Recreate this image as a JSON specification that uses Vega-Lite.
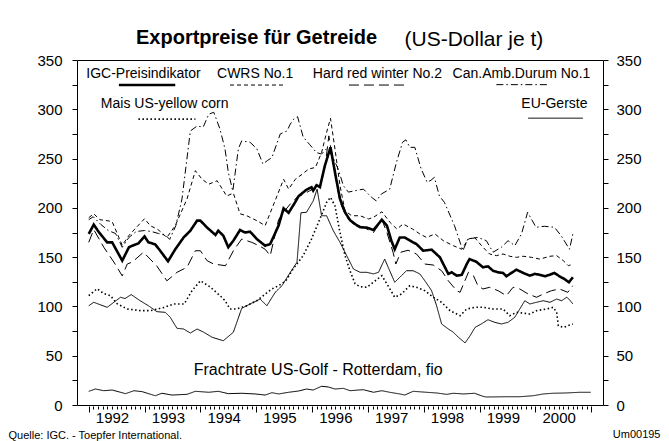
{
  "$schema": "https://vega.github.io/schema/vega-lite/v6.json",
  "width": 526,
  "height": 345,
  "autosize": "none",
  "padding": {"left": 77, "top": 60, "right": 66, "bottom": 36},
  "background": "white",
  "title": {
    "text": "Exportpreise für Getreide",
    "anchor": "start",
    "frame": "group",
    "dx": 59,
    "offset": -20,
    "font": "Liberation Sans",
    "fontSize": 20,
    "fontWeight": "bold",
    "color": "black"
  },
  "datasets": {
    "prices": [
      {"s":"IGC-Preisindikator","t":1992.00,"v":173.5},{"s":"IGC-Preisindikator","t":1992.09,"v":183},{"s":"IGC-Preisindikator","t":1992.18,"v":175.5},{"s":"IGC-Preisindikator","t":1992.33,"v":165},{"s":"IGC-Preisindikator","t":1992.42,"v":165},{"s":"IGC-Preisindikator","t":1992.60,"v":146.4},{"s":"IGC-Preisindikator","t":1992.72,"v":160},{"s":"IGC-Preisindikator","t":1992.78,"v":161.6},{"s":"IGC-Preisindikator","t":1992.89,"v":164},{"s":"IGC-Preisindikator","t":1993.00,"v":171},{"s":"IGC-Preisindikator","t":1993.07,"v":165},{"s":"IGC-Preisindikator","t":1993.19,"v":163},{"s":"IGC-Preisindikator","t":1993.28,"v":156.5},{"s":"IGC-Preisindikator","t":1993.42,"v":145.8},{"s":"IGC-Preisindikator","t":1993.55,"v":158},{"s":"IGC-Preisindikator","t":1993.70,"v":170},{"s":"IGC-Preisindikator","t":1993.82,"v":176.8},{"s":"IGC-Preisindikator","t":1993.94,"v":187},{"s":"IGC-Preisindikator","t":1994.00,"v":187},{"s":"IGC-Preisindikator","t":1994.12,"v":180},{"s":"IGC-Preisindikator","t":1994.27,"v":172.5},{"s":"IGC-Preisindikator","t":1994.32,"v":176.8},{"s":"IGC-Preisindikator","t":1994.41,"v":171.8},{"s":"IGC-Preisindikator","t":1994.50,"v":160},{"s":"IGC-Preisindikator","t":1994.59,"v":166.7},{"s":"IGC-Preisindikator","t":1994.71,"v":177.5},{"s":"IGC-Preisindikator","t":1994.80,"v":175},{"s":"IGC-Preisindikator","t":1994.89,"v":175.8},{"s":"IGC-Preisindikator","t":1995.01,"v":168.4},{"s":"IGC-Preisindikator","t":1995.16,"v":161.6},{"s":"IGC-Preisindikator","t":1995.25,"v":163.3},{"s":"IGC-Preisindikator","t":1995.40,"v":182},{"s":"IGC-Preisindikator","t":1995.49,"v":199.5},{"s":"IGC-Preisindikator","t":1995.58,"v":195},{"s":"IGC-Preisindikator","t":1995.70,"v":206},{"s":"IGC-Preisindikator","t":1995.76,"v":212},{"s":"IGC-Preisindikator","t":1995.89,"v":218},{"s":"IGC-Preisindikator","t":1995.99,"v":221},{"s":"IGC-Preisindikator","t":1996.02,"v":217.5},{"s":"IGC-Preisindikator","t":1996.08,"v":223},{"s":"IGC-Preisindikator","t":1996.14,"v":221},{"s":"IGC-Preisindikator","t":1996.23,"v":243},{"s":"IGC-Preisindikator","t":1996.33,"v":261.4},{"s":"IGC-Preisindikator","t":1996.41,"v":236},{"s":"IGC-Preisindikator","t":1996.50,"v":209},{"s":"IGC-Preisindikator","t":1996.59,"v":195.5},{"s":"IGC-Preisindikator","t":1996.68,"v":187.5},{"s":"IGC-Preisindikator","t":1996.77,"v":183.6},{"s":"IGC-Preisindikator","t":1996.86,"v":180.3},{"s":"IGC-Preisindikator","t":1996.98,"v":180},{"s":"IGC-Preisindikator","t":1997.10,"v":177.5},{"s":"IGC-Preisindikator","t":1997.25,"v":188},{"s":"IGC-Preisindikator","t":1997.34,"v":182},{"s":"IGC-Preisindikator","t":1997.42,"v":166.7},{"s":"IGC-Preisindikator","t":1997.48,"v":158},{"s":"IGC-Preisindikator","t":1997.57,"v":170},{"s":"IGC-Preisindikator","t":1997.66,"v":170},{"s":"IGC-Preisindikator","t":1997.81,"v":165},{"s":"IGC-Preisindikator","t":1997.87,"v":163.3},{"s":"IGC-Preisindikator","t":1997.99,"v":156.5},{"s":"IGC-Preisindikator","t":1998.14,"v":157.6},{"s":"IGC-Preisindikator","t":1998.29,"v":149.8},{"s":"IGC-Preisindikator","t":1998.35,"v":143},{"s":"IGC-Preisindikator","t":1998.44,"v":133},{"s":"IGC-Preisindikator","t":1998.50,"v":134.6},{"s":"IGC-Preisindikator","t":1998.59,"v":131.2},{"s":"IGC-Preisindikator","t":1998.68,"v":132},{"s":"IGC-Preisindikator","t":1998.77,"v":143},{"s":"IGC-Preisindikator","t":1998.82,"v":148},{"s":"IGC-Preisindikator","t":1998.94,"v":145.4},{"s":"IGC-Preisindikator","t":1999.06,"v":139.7},{"s":"IGC-Preisindikator","t":1999.15,"v":140.7},{"s":"IGC-Preisindikator","t":1999.24,"v":136.2},{"s":"IGC-Preisindikator","t":1999.33,"v":134.6},{"s":"IGC-Preisindikator","t":1999.42,"v":134},{"s":"IGC-Preisindikator","t":1999.48,"v":130.6},{"s":"IGC-Preisindikator","t":1999.57,"v":134},{"s":"IGC-Preisindikator","t":1999.66,"v":137.3},{"s":"IGC-Preisindikator","t":1999.78,"v":134},{"s":"IGC-Preisindikator","t":1999.90,"v":131.2},{"s":"IGC-Preisindikator","t":1999.99,"v":133},{"s":"IGC-Preisindikator","t":2000.08,"v":132},{"s":"IGC-Preisindikator","t":2000.17,"v":130.6},{"s":"IGC-Preisindikator","t":2000.25,"v":132},{"s":"IGC-Preisindikator","t":2000.34,"v":134},{"s":"IGC-Preisindikator","t":2000.43,"v":130.6},{"s":"IGC-Preisindikator","t":2000.52,"v":127.8},{"s":"IGC-Preisindikator","t":2000.60,"v":124.5},{"s":"IGC-Preisindikator","t":2000.67,"v":129.6},

      {"s":"CWRS No.1","t":1992.00,"v":190},{"s":"CWRS No.1","t":1992.09,"v":194},{"s":"CWRS No.1","t":1992.20,"v":188},{"s":"CWRS No.1","t":1992.33,"v":187},{"s":"CWRS No.1","t":1992.42,"v":186},{"s":"CWRS No.1","t":1992.60,"v":162},{"s":"CWRS No.1","t":1992.72,"v":172},{"s":"CWRS No.1","t":1992.85,"v":180},{"s":"CWRS No.1","t":1993.00,"v":189},{"s":"CWRS No.1","t":1993.10,"v":182},{"s":"CWRS No.1","t":1993.24,"v":178},{"s":"CWRS No.1","t":1993.40,"v":170},{"s":"CWRS No.1","t":1993.55,"v":182},{"s":"CWRS No.1","t":1993.76,"v":209},{"s":"CWRS No.1","t":1993.91,"v":237.7},{"s":"CWRS No.1","t":1994.03,"v":229},{"s":"CWRS No.1","t":1994.15,"v":224},{"s":"CWRS No.1","t":1994.30,"v":227.5},{"s":"CWRS No.1","t":1994.47,"v":212},{"s":"CWRS No.1","t":1994.59,"v":215},{"s":"CWRS No.1","t":1994.71,"v":194},{"s":"CWRS No.1","t":1994.83,"v":192},{"s":"CWRS No.1","t":1995.01,"v":187},{"s":"CWRS No.1","t":1995.16,"v":182},{"s":"CWRS No.1","t":1995.35,"v":209},{"s":"CWRS No.1","t":1995.49,"v":229},{"s":"CWRS No.1","t":1995.58,"v":219},{"s":"CWRS No.1","t":1995.70,"v":229},{"s":"CWRS No.1","t":1995.82,"v":234},{"s":"CWRS No.1","t":1995.94,"v":239.4},{"s":"CWRS No.1","t":1996.06,"v":241},{"s":"CWRS No.1","t":1996.17,"v":256},{"s":"CWRS No.1","t":1996.26,"v":276.6},{"s":"CWRS No.1","t":1996.33,"v":290.8},{"s":"CWRS No.1","t":1996.41,"v":259.7},{"s":"CWRS No.1","t":1996.50,"v":222.5},{"s":"CWRS No.1","t":1996.59,"v":197},{"s":"CWRS No.1","t":1996.71,"v":192},{"s":"CWRS No.1","t":1996.86,"v":192},{"s":"CWRS No.1","t":1997.01,"v":188.7},{"s":"CWRS No.1","t":1997.10,"v":190.4},{"s":"CWRS No.1","t":1997.25,"v":196},{"s":"CWRS No.1","t":1997.40,"v":185},{"s":"CWRS No.1","t":1997.52,"v":178.5},{"s":"CWRS No.1","t":1997.63,"v":183.6},{"s":"CWRS No.1","t":1997.80,"v":178.5},{"s":"CWRS No.1","t":1997.93,"v":173.5},{"s":"CWRS No.1","t":1998.05,"v":170},{"s":"CWRS No.1","t":1998.20,"v":173.5},{"s":"CWRS No.1","t":1998.35,"v":166.7},{"s":"CWRS No.1","t":1998.53,"v":161.6},{"s":"CWRS No.1","t":1998.68,"v":158},{"s":"CWRS No.1","t":1998.80,"v":168.4},{"s":"CWRS No.1","t":1998.91,"v":170},{"s":"CWRS No.1","t":1999.06,"v":160},{"s":"CWRS No.1","t":1999.18,"v":153.2},{"s":"CWRS No.1","t":1999.30,"v":151.5},{"s":"CWRS No.1","t":1999.42,"v":153.2},{"s":"CWRS No.1","t":1999.54,"v":150.9},{"s":"CWRS No.1","t":1999.66,"v":149.8},{"s":"CWRS No.1","t":1999.78,"v":150.9},{"s":"CWRS No.1","t":1999.93,"v":149.8},{"s":"CWRS No.1","t":2000.08,"v":148},{"s":"CWRS No.1","t":2000.26,"v":150.9},{"s":"CWRS No.1","t":2000.38,"v":151.5},{"s":"CWRS No.1","t":2000.50,"v":146.4},{"s":"CWRS No.1","t":2000.59,"v":141.3},{"s":"CWRS No.1","t":2000.67,"v":143},

      {"s":"Hard red winter No.2","t":1992.00,"v":165},{"s":"Hard red winter No.2","t":1992.09,"v":178},{"s":"Hard red winter No.2","t":1992.27,"v":160},{"s":"Hard red winter No.2","t":1992.45,"v":145},{"s":"Hard red winter No.2","t":1992.60,"v":131},{"s":"Hard red winter No.2","t":1992.69,"v":143},{"s":"Hard red winter No.2","t":1992.78,"v":145},{"s":"Hard red winter No.2","t":1992.98,"v":155},{"s":"Hard red winter No.2","t":1993.10,"v":148},{"s":"Hard red winter No.2","t":1993.22,"v":141},{"s":"Hard red winter No.2","t":1993.40,"v":126},{"s":"Hard red winter No.2","t":1993.58,"v":134.6},{"s":"Hard red winter No.2","t":1993.76,"v":139.7},{"s":"Hard red winter No.2","t":1993.91,"v":156.5},{"s":"Hard red winter No.2","t":1994.00,"v":156.5},{"s":"Hard red winter No.2","t":1994.12,"v":146.4},{"s":"Hard red winter No.2","t":1994.24,"v":143},{"s":"Hard red winter No.2","t":1994.45,"v":141.3},{"s":"Hard red winter No.2","t":1994.59,"v":156.5},{"s":"Hard red winter No.2","t":1994.74,"v":168.4},{"s":"Hard red winter No.2","t":1994.92,"v":165},{"s":"Hard red winter No.2","t":1995.05,"v":161.6},{"s":"Hard red winter No.2","t":1995.16,"v":158},{"s":"Hard red winter No.2","t":1995.25,"v":151.5},{"s":"Hard red winter No.2","t":1995.40,"v":188},{"s":"Hard red winter No.2","t":1995.49,"v":195.5},{"s":"Hard red winter No.2","t":1995.61,"v":204},{"s":"Hard red winter No.2","t":1995.73,"v":210.7},{"s":"Hard red winter No.2","t":1995.85,"v":214},{"s":"Hard red winter No.2","t":1995.96,"v":217.4},{"s":"Hard red winter No.2","t":1996.05,"v":220},{"s":"Hard red winter No.2","t":1996.14,"v":222},{"s":"Hard red winter No.2","t":1996.24,"v":245},{"s":"Hard red winter No.2","t":1996.30,"v":273},{"s":"Hard red winter No.2","t":1996.38,"v":245},{"s":"Hard red winter No.2","t":1996.50,"v":205.6},{"s":"Hard red winter No.2","t":1996.62,"v":190.4},{"s":"Hard red winter No.2","t":1996.74,"v":183.6},{"s":"Hard red winter No.2","t":1996.92,"v":180.3},{"s":"Hard red winter No.2","t":1997.10,"v":175},{"s":"Hard red winter No.2","t":1997.25,"v":188},{"s":"Hard red winter No.2","t":1997.34,"v":175},{"s":"Hard red winter No.2","t":1997.45,"v":155},{"s":"Hard red winter No.2","t":1997.50,"v":143},{"s":"Hard red winter No.2","t":1997.59,"v":155},{"s":"Hard red winter No.2","t":1997.72,"v":157},{"s":"Hard red winter No.2","t":1997.87,"v":153.2},{"s":"Hard red winter No.2","t":1998.02,"v":143},{"s":"Hard red winter No.2","t":1998.17,"v":142},{"s":"Hard red winter No.2","t":1998.32,"v":136.2},{"s":"Hard red winter No.2","t":1998.44,"v":126},{"s":"Hard red winter No.2","t":1998.59,"v":116},{"s":"Hard red winter No.2","t":1998.65,"v":114.3},{"s":"Hard red winter No.2","t":1998.80,"v":134.6},{"s":"Hard red winter No.2","t":1998.89,"v":131.2},{"s":"Hard red winter No.2","t":1998.97,"v":121},{"s":"Hard red winter No.2","t":1999.06,"v":117.7},{"s":"Hard red winter No.2","t":1999.18,"v":119.4},{"s":"Hard red winter No.2","t":1999.33,"v":116},{"s":"Hard red winter No.2","t":1999.48,"v":110.9},{"s":"Hard red winter No.2","t":1999.60,"v":119.4},{"s":"Hard red winter No.2","t":1999.72,"v":117.7},{"s":"Hard red winter No.2","t":1999.87,"v":112.6},{"s":"Hard red winter No.2","t":2000.02,"v":109.3},{"s":"Hard red winter No.2","t":2000.14,"v":112.6},{"s":"Hard red winter No.2","t":2000.29,"v":116},{"s":"Hard red winter No.2","t":2000.43,"v":117.7},{"s":"Hard red winter No.2","t":2000.58,"v":114.3},{"s":"Hard red winter No.2","t":2000.67,"v":121},

      {"s":"Can.Amb.Durum No.1","t":1992.00,"v":188},{"s":"Can.Amb.Durum No.1","t":1992.08,"v":191},{"s":"Can.Amb.Durum No.1","t":1992.22,"v":183},{"s":"Can.Amb.Durum No.1","t":1992.35,"v":177},{"s":"Can.Amb.Durum No.1","t":1992.48,"v":174},{"s":"Can.Amb.Durum No.1","t":1992.60,"v":160},{"s":"Can.Amb.Durum No.1","t":1992.72,"v":170},{"s":"Can.Amb.Durum No.1","t":1992.85,"v":176},{"s":"Can.Amb.Durum No.1","t":1993.00,"v":177},{"s":"Can.Amb.Durum No.1","t":1993.12,"v":176},{"s":"Can.Amb.Durum No.1","t":1993.25,"v":174},{"s":"Can.Amb.Durum No.1","t":1993.38,"v":172},{"s":"Can.Amb.Durum No.1","t":1993.45,"v":168},{"s":"Can.Amb.Durum No.1","t":1993.56,"v":182},{"s":"Can.Amb.Durum No.1","t":1993.67,"v":209},{"s":"Can.Amb.Durum No.1","t":1993.82,"v":278},{"s":"Can.Amb.Durum No.1","t":1993.94,"v":283},{"s":"Can.Amb.Durum No.1","t":1994.05,"v":282},{"s":"Can.Amb.Durum No.1","t":1994.15,"v":295},{"s":"Can.Amb.Durum No.1","t":1994.24,"v":297},{"s":"Can.Amb.Durum No.1","t":1994.35,"v":280},{"s":"Can.Amb.Durum No.1","t":1994.44,"v":260},{"s":"Can.Amb.Durum No.1","t":1994.50,"v":236},{"s":"Can.Amb.Durum No.1","t":1994.58,"v":217},{"s":"Can.Amb.Durum No.1","t":1994.68,"v":260},{"s":"Can.Amb.Durum No.1","t":1994.74,"v":268},{"s":"Can.Amb.Durum No.1","t":1994.89,"v":266.5},{"s":"Can.Amb.Durum No.1","t":1995.01,"v":260},{"s":"Can.Amb.Durum No.1","t":1995.12,"v":244.5},{"s":"Can.Amb.Durum No.1","t":1995.20,"v":248},{"s":"Can.Amb.Durum No.1","t":1995.28,"v":251},{"s":"Can.Amb.Durum No.1","t":1995.43,"v":275},{"s":"Can.Amb.Durum No.1","t":1995.55,"v":278},{"s":"Can.Amb.Durum No.1","t":1995.61,"v":285},{"s":"Can.Amb.Durum No.1","t":1995.67,"v":290},{"s":"Can.Amb.Durum No.1","t":1995.74,"v":292.5},{"s":"Can.Amb.Durum No.1","t":1995.84,"v":272},{"s":"Can.Amb.Durum No.1","t":1995.96,"v":264},{"s":"Can.Amb.Durum No.1","t":1996.08,"v":256},{"s":"Can.Amb.Durum No.1","t":1996.17,"v":254.6},{"s":"Can.Amb.Durum No.1","t":1996.26,"v":260},{"s":"Can.Amb.Durum No.1","t":1996.36,"v":253},{"s":"Can.Amb.Durum No.1","t":1996.47,"v":239},{"s":"Can.Amb.Durum No.1","t":1996.56,"v":222.5},{"s":"Can.Amb.Durum No.1","t":1996.65,"v":216},{"s":"Can.Amb.Durum No.1","t":1996.77,"v":217.4},{"s":"Can.Amb.Durum No.1","t":1996.92,"v":219},{"s":"Can.Amb.Durum No.1","t":1997.06,"v":211},{"s":"Can.Amb.Durum No.1","t":1997.15,"v":207},{"s":"Can.Amb.Durum No.1","t":1997.24,"v":214},{"s":"Can.Amb.Durum No.1","t":1997.39,"v":219},{"s":"Can.Amb.Durum No.1","t":1997.51,"v":246},{"s":"Can.Amb.Durum No.1","t":1997.62,"v":266.5},{"s":"Can.Amb.Durum No.1","t":1997.68,"v":269},{"s":"Can.Amb.Durum No.1","t":1997.75,"v":261.4},{"s":"Can.Amb.Durum No.1","t":1997.84,"v":261.4},{"s":"Can.Amb.Durum No.1","t":1997.95,"v":240},{"s":"Can.Amb.Durum No.1","t":1998.06,"v":226},{"s":"Can.Amb.Durum No.1","t":1998.13,"v":228},{"s":"Can.Amb.Durum No.1","t":1998.19,"v":231},{"s":"Can.Amb.Durum No.1","t":1998.28,"v":212},{"s":"Can.Amb.Durum No.1","t":1998.37,"v":205.6},{"s":"Can.Amb.Durum No.1","t":1998.55,"v":182},{"s":"Can.Amb.Durum No.1","t":1998.70,"v":156.5},{"s":"Can.Amb.Durum No.1","t":1998.79,"v":168.4},{"s":"Can.Amb.Durum No.1","t":1998.97,"v":170},{"s":"Can.Amb.Durum No.1","t":1999.12,"v":166.7},{"s":"Can.Amb.Durum No.1","t":1999.24,"v":155},{"s":"Can.Amb.Durum No.1","t":1999.39,"v":160},{"s":"Can.Amb.Durum No.1","t":1999.51,"v":166.7},{"s":"Can.Amb.Durum No.1","t":1999.63,"v":161.6},{"s":"Can.Amb.Durum No.1","t":1999.75,"v":173.5},{"s":"Can.Amb.Durum No.1","t":1999.86,"v":195.5},{"s":"Can.Amb.Durum No.1","t":2000.01,"v":180.3},{"s":"Can.Amb.Durum No.1","t":2000.16,"v":181.3},{"s":"Can.Amb.Durum No.1","t":2000.34,"v":180.3},{"s":"Can.Amb.Durum No.1","t":2000.46,"v":171.8},{"s":"Can.Amb.Durum No.1","t":2000.61,"v":158},{"s":"Can.Amb.Durum No.1","t":2000.67,"v":173.5},

      {"s":"Mais US-yellow corn","t":1992.00,"v":111},{"s":"Mais US-yellow corn","t":1992.15,"v":118},{"s":"Mais US-yellow corn","t":1992.27,"v":113},{"s":"Mais US-yellow corn","t":1992.39,"v":111},{"s":"Mais US-yellow corn","t":1992.50,"v":103},{"s":"Mais US-yellow corn","t":1992.69,"v":97.4},{"s":"Mais US-yellow corn","t":1992.93,"v":95.7},{"s":"Mais US-yellow corn","t":1993.11,"v":95.7},{"s":"Mais US-yellow corn","t":1993.23,"v":97.4},{"s":"Mais US-yellow corn","t":1993.35,"v":99},{"s":"Mais US-yellow corn","t":1993.53,"v":102.5},{"s":"Mais US-yellow corn","t":1993.71,"v":102.5},{"s":"Mais US-yellow corn","t":1993.85,"v":116},{"s":"Mais US-yellow corn","t":1994.00,"v":126},{"s":"Mais US-yellow corn","t":1994.17,"v":120},{"s":"Mais US-yellow corn","t":1994.35,"v":111},{"s":"Mais US-yellow corn","t":1994.44,"v":106},{"s":"Mais US-yellow corn","t":1994.53,"v":97.4},{"s":"Mais US-yellow corn","t":1994.65,"v":97.4},{"s":"Mais US-yellow corn","t":1994.83,"v":100.7},{"s":"Mais US-yellow corn","t":1995.01,"v":105.8},{"s":"Mais US-yellow corn","t":1995.16,"v":112.6},{"s":"Mais US-yellow corn","t":1995.28,"v":117.7},{"s":"Mais US-yellow corn","t":1995.40,"v":121},{"s":"Mais US-yellow corn","t":1995.53,"v":126},{"s":"Mais US-yellow corn","t":1995.66,"v":138},{"s":"Mais US-yellow corn","t":1995.84,"v":151.5},{"s":"Mais US-yellow corn","t":1995.99,"v":168.4},{"s":"Mais US-yellow corn","t":1996.14,"v":188.7},{"s":"Mais US-yellow corn","t":1996.26,"v":205.6},{"s":"Mais US-yellow corn","t":1996.33,"v":210.7},{"s":"Mais US-yellow corn","t":1996.41,"v":202},{"s":"Mais US-yellow corn","t":1996.50,"v":175},{"s":"Mais US-yellow corn","t":1996.59,"v":151.5},{"s":"Mais US-yellow corn","t":1996.68,"v":136},{"s":"Mais US-yellow corn","t":1996.77,"v":123},{"s":"Mais US-yellow corn","t":1996.86,"v":120},{"s":"Mais US-yellow corn","t":1996.98,"v":119.4},{"s":"Mais US-yellow corn","t":1997.13,"v":126},{"s":"Mais US-yellow corn","t":1997.25,"v":131.2},{"s":"Mais US-yellow corn","t":1997.36,"v":121},{"s":"Mais US-yellow corn","t":1997.48,"v":109.3},{"s":"Mais US-yellow corn","t":1997.60,"v":112.6},{"s":"Mais US-yellow corn","t":1997.75,"v":121},{"s":"Mais US-yellow corn","t":1997.87,"v":119.4},{"s":"Mais US-yellow corn","t":1998.02,"v":116},{"s":"Mais US-yellow corn","t":1998.17,"v":109.3},{"s":"Mais US-yellow corn","t":1998.32,"v":104.2},{"s":"Mais US-yellow corn","t":1998.47,"v":95.7},{"s":"Mais US-yellow corn","t":1998.65,"v":90.6},{"s":"Mais US-yellow corn","t":1998.77,"v":97.4},{"s":"Mais US-yellow corn","t":1998.92,"v":99.1},{"s":"Mais US-yellow corn","t":1999.06,"v":99.1},{"s":"Mais US-yellow corn","t":1999.24,"v":97.4},{"s":"Mais US-yellow corn","t":1999.42,"v":97.4},{"s":"Mais US-yellow corn","t":1999.54,"v":90.6},{"s":"Mais US-yellow corn","t":1999.66,"v":94},{"s":"Mais US-yellow corn","t":1999.90,"v":92.3},{"s":"Mais US-yellow corn","t":2000.02,"v":95.7},{"s":"Mais US-yellow corn","t":2000.20,"v":97.4},{"s":"Mais US-yellow corn","t":2000.32,"v":99.1},{"s":"Mais US-yellow corn","t":2000.38,"v":94},{"s":"Mais US-yellow corn","t":2000.41,"v":80.4},{"s":"Mais US-yellow corn","t":2000.50,"v":78.8},{"s":"Mais US-yellow corn","t":2000.58,"v":80.4},{"s":"Mais US-yellow corn","t":2000.67,"v":82.2},

      {"s":"EU-Gerste","t":1992.00,"v":100.7},{"s":"EU-Gerste","t":1992.09,"v":104.2},{"s":"EU-Gerste","t":1992.33,"v":99.1},{"s":"EU-Gerste","t":1992.57,"v":109.3},{"s":"EU-Gerste","t":1992.65,"v":108},{"s":"EU-Gerste","t":1992.76,"v":112},{"s":"EU-Gerste","t":1992.92,"v":105.8},{"s":"EU-Gerste","t":1993.07,"v":100.7},{"s":"EU-Gerste","t":1993.22,"v":94.7},{"s":"EU-Gerste","t":1993.37,"v":94},{"s":"EU-Gerste","t":1993.46,"v":89},{"s":"EU-Gerste","t":1993.58,"v":77.8},{"s":"EU-Gerste","t":1993.70,"v":77.1},{"s":"EU-Gerste","t":1993.82,"v":73},{"s":"EU-Gerste","t":1993.94,"v":77.1},{"s":"EU-Gerste","t":1994.06,"v":73.8},{"s":"EU-Gerste","t":1994.21,"v":68.7},{"s":"EU-Gerste","t":1994.41,"v":65.2},{"s":"EU-Gerste","t":1994.59,"v":73.8},{"s":"EU-Gerste","t":1994.74,"v":98.1},{"s":"EU-Gerste","t":1994.89,"v":102.5},{"s":"EU-Gerste","t":1995.07,"v":107.5},{"s":"EU-Gerste","t":1995.19,"v":100.7},{"s":"EU-Gerste","t":1995.34,"v":114.3},{"s":"EU-Gerste","t":1995.46,"v":121},{"s":"EU-Gerste","t":1995.61,"v":134.6},{"s":"EU-Gerste","t":1995.73,"v":144.8},{"s":"EU-Gerste","t":1995.80,"v":195},{"s":"EU-Gerste","t":1995.90,"v":195.5},{"s":"EU-Gerste","t":1996.02,"v":207},{"s":"EU-Gerste","t":1996.09,"v":219},{"s":"EU-Gerste","t":1996.17,"v":192},{"s":"EU-Gerste","t":1996.26,"v":192},{"s":"EU-Gerste","t":1996.38,"v":176.8},{"s":"EU-Gerste","t":1996.50,"v":165},{"s":"EU-Gerste","t":1996.62,"v":151.5},{"s":"EU-Gerste","t":1996.74,"v":138},{"s":"EU-Gerste","t":1996.86,"v":134.6},{"s":"EU-Gerste","t":1996.98,"v":134.6},{"s":"EU-Gerste","t":1997.10,"v":133},{"s":"EU-Gerste","t":1997.19,"v":134.6},{"s":"EU-Gerste","t":1997.30,"v":148},{"s":"EU-Gerste","t":1997.48,"v":124.5},{"s":"EU-Gerste","t":1997.60,"v":131.2},{"s":"EU-Gerste","t":1997.69,"v":136.2},{"s":"EU-Gerste","t":1997.81,"v":136.2},{"s":"EU-Gerste","t":1997.93,"v":133},{"s":"EU-Gerste","t":1998.02,"v":126},{"s":"EU-Gerste","t":1998.14,"v":116},{"s":"EU-Gerste","t":1998.23,"v":100.7},{"s":"EU-Gerste","t":1998.32,"v":82.2},{"s":"EU-Gerste","t":1998.44,"v":77.1},{"s":"EU-Gerste","t":1998.53,"v":73.8},{"s":"EU-Gerste","t":1998.62,"v":68.7},{"s":"EU-Gerste","t":1998.74,"v":63},{"s":"EU-Gerste","t":1998.83,"v":70.3},{"s":"EU-Gerste","t":1998.92,"v":78.8},{"s":"EU-Gerste","t":1999.03,"v":82.2},{"s":"EU-Gerste","t":1999.15,"v":86.5},{"s":"EU-Gerste","t":1999.27,"v":83.9},{"s":"EU-Gerste","t":1999.39,"v":82.2},{"s":"EU-Gerste","t":1999.51,"v":83.9},{"s":"EU-Gerste","t":1999.63,"v":89},{"s":"EU-Gerste","t":1999.72,"v":97.4},{"s":"EU-Gerste","t":1999.81,"v":105.8},{"s":"EU-Gerste","t":1999.90,"v":102.5},{"s":"EU-Gerste","t":2000.02,"v":104.2},{"s":"EU-Gerste","t":2000.14,"v":105.8},{"s":"EU-Gerste","t":2000.26,"v":104.2},{"s":"EU-Gerste","t":2000.38,"v":107.5},{"s":"EU-Gerste","t":2000.47,"v":105.8},{"s":"EU-Gerste","t":2000.56,"v":109.3},{"s":"EU-Gerste","t":2000.60,"v":107.5},{"s":"EU-Gerste","t":2000.67,"v":102.5},

      {"s":"Frachtrate US-Golf - Rotterdam, fio","t":1992.00,"v":13.9},{"s":"Frachtrate US-Golf - Rotterdam, fio","t":1992.12,"v":16.2},{"s":"Frachtrate US-Golf - Rotterdam, fio","t":1992.27,"v":14.5},{"s":"Frachtrate US-Golf - Rotterdam, fio","t":1992.42,"v":15.2},{"s":"Frachtrate US-Golf - Rotterdam, fio","t":1992.66,"v":11.5},{"s":"Frachtrate US-Golf - Rotterdam, fio","t":1992.81,"v":14.5},{"s":"Frachtrate US-Golf - Rotterdam, fio","t":1992.96,"v":13.5},{"s":"Frachtrate US-Golf - Rotterdam, fio","t":1993.19,"v":9.4},{"s":"Frachtrate US-Golf - Rotterdam, fio","t":1993.31,"v":11.9},{"s":"Frachtrate US-Golf - Rotterdam, fio","t":1993.49,"v":10.1},{"s":"Frachtrate US-Golf - Rotterdam, fio","t":1993.76,"v":10.8},{"s":"Frachtrate US-Golf - Rotterdam, fio","t":1993.91,"v":13.9},{"s":"Frachtrate US-Golf - Rotterdam, fio","t":1994.15,"v":12.9},{"s":"Frachtrate US-Golf - Rotterdam, fio","t":1994.32,"v":13.9},{"s":"Frachtrate US-Golf - Rotterdam, fio","t":1994.50,"v":11.5},{"s":"Frachtrate US-Golf - Rotterdam, fio","t":1994.74,"v":11.9},{"s":"Frachtrate US-Golf - Rotterdam, fio","t":1994.98,"v":11.2},{"s":"Frachtrate US-Golf - Rotterdam, fio","t":1995.16,"v":10.1},{"s":"Frachtrate US-Golf - Rotterdam, fio","t":1995.28,"v":12.5},{"s":"Frachtrate US-Golf - Rotterdam, fio","t":1995.40,"v":11.2},{"s":"Frachtrate US-Golf - Rotterdam, fio","t":1995.58,"v":12.9},{"s":"Frachtrate US-Golf - Rotterdam, fio","t":1995.76,"v":14.2},{"s":"Frachtrate US-Golf - Rotterdam, fio","t":1995.90,"v":16.2},{"s":"Frachtrate US-Golf - Rotterdam, fio","t":1996.02,"v":15.2},{"s":"Frachtrate US-Golf - Rotterdam, fio","t":1996.17,"v":19},{"s":"Frachtrate US-Golf - Rotterdam, fio","t":1996.29,"v":18.3},{"s":"Frachtrate US-Golf - Rotterdam, fio","t":1996.41,"v":16.2},{"s":"Frachtrate US-Golf - Rotterdam, fio","t":1996.56,"v":16.9},{"s":"Frachtrate US-Golf - Rotterdam, fio","t":1996.68,"v":14.5},{"s":"Frachtrate US-Golf - Rotterdam, fio","t":1996.83,"v":15.2},{"s":"Frachtrate US-Golf - Rotterdam, fio","t":1996.92,"v":15.5},{"s":"Frachtrate US-Golf - Rotterdam, fio","t":1997.10,"v":12.9},{"s":"Frachtrate US-Golf - Rotterdam, fio","t":1997.25,"v":14.5},{"s":"Frachtrate US-Golf - Rotterdam, fio","t":1997.39,"v":12.9},{"s":"Frachtrate US-Golf - Rotterdam, fio","t":1997.57,"v":11.2},{"s":"Frachtrate US-Golf - Rotterdam, fio","t":1997.66,"v":10.1},{"s":"Frachtrate US-Golf - Rotterdam, fio","t":1997.81,"v":13.9},{"s":"Frachtrate US-Golf - Rotterdam, fio","t":1998.05,"v":12.9},{"s":"Frachtrate US-Golf - Rotterdam, fio","t":1998.23,"v":12.2},{"s":"Frachtrate US-Golf - Rotterdam, fio","t":1998.41,"v":10.8},{"s":"Frachtrate US-Golf - Rotterdam, fio","t":1998.53,"v":11.9},{"s":"Frachtrate US-Golf - Rotterdam, fio","t":1998.71,"v":11.2},{"s":"Frachtrate US-Golf - Rotterdam, fio","t":1998.91,"v":11.9},{"s":"Frachtrate US-Golf - Rotterdam, fio","t":1999.06,"v":8.8},{"s":"Frachtrate US-Golf - Rotterdam, fio","t":1999.12,"v":8.1},{"s":"Frachtrate US-Golf - Rotterdam, fio","t":1999.48,"v":8.4},{"s":"Frachtrate US-Golf - Rotterdam, fio","t":1999.72,"v":8.4},{"s":"Frachtrate US-Golf - Rotterdam, fio","t":1999.96,"v":9.4},{"s":"Frachtrate US-Golf - Rotterdam, fio","t":2000.14,"v":11.2},{"s":"Frachtrate US-Golf - Rotterdam, fio","t":2000.31,"v":11.9},{"s":"Frachtrate US-Golf - Rotterdam, fio","t":2000.55,"v":12.2},{"s":"Frachtrate US-Golf - Rotterdam, fio","t":2000.79,"v":12.9},{"s":"Frachtrate US-Golf - Rotterdam, fio","t":2000.99,"v":12.9}
    ],
    "labels": [
      {"s":"IGC-Preisindikator","t":1992.98,"v":332},
      {"s":"CWRS No.1","t":1994.98,"v":332},
      {"s":"Hard red winter No.2","t":1997.17,"v":332},
      {"s":"Can.Amb.Durum No.1","t":1999.75,"v":332},
      {"s":"Mais US-yellow corn","t":1993.36,"v":301},
      {"s":"EU-Gerste","t":2000.34,"v":301},
      {"s":"Frachtrate US-Golf - Rotterdam, fio","t":1996.11,"v":30.4}
    ],
    "keys": [
      {"s":"IGC-Preisindikator","t":1992.54,"t2":1993.55,"v":324.6},
      {"s":"CWRS No.1","t":1994.53,"t2":1995.49,"v":324.6},
      {"s":"Hard red winter No.2","t":1996.66,"t2":1997.66,"v":324.6},
      {"s":"Can.Amb.Durum No.1","t":1999.30,"t2":2000.25,"v":325},
      {"s":"Mais US-yellow corn","t":1992.89,"t2":1993.91,"v":290},
      {"s":"EU-Gerste","t":1999.87,"t2":2000.85,"v":291}
    ]
  },
  "layer": [
    {
      "data": {"name": "prices"},
      "mark": {"type": "line", "color": "black", "strokeCap": "butt"},
      "encoding": {
        "x": {
          "field": "t", "type": "quantitative",
          "scale": {"domain": [1991.79, 2001.21], "nice": false, "zero": false},
          "axis": {
            "orient": "bottom",
            "values": [1992,1992.0833,1992.1667,1992.25,1992.3333,1992.4167,1992.5,1992.5833,1992.6667,1992.75,1992.8333,1992.9167,1993,1993.0833,1993.1667,1993.25,1993.3333,1993.4167,1993.5,1993.5833,1993.6667,1993.75,1993.8333,1993.9167,1994,1994.0833,1994.1667,1994.25,1994.3333,1994.4167,1994.5,1994.5833,1994.6667,1994.75,1994.8333,1994.9167,1995,1995.0833,1995.1667,1995.25,1995.3333,1995.4167,1995.5,1995.5833,1995.6667,1995.75,1995.8333,1995.9167,1996,1996.0833,1996.1667,1996.25,1996.3333,1996.4167,1996.5,1996.5833,1996.6667,1996.75,1996.8333,1996.9167,1997,1997.0833,1997.1667,1997.25,1997.3333,1997.4167,1997.5,1997.5833,1997.6667,1997.75,1997.8333,1997.9167,1998,1998.0833,1998.1667,1998.25,1998.3333,1998.4167,1998.5,1998.5833,1998.6667,1998.75,1998.8333,1998.9167,1999,1999.0833,1999.1667,1999.25,1999.3333,1999.4167,1999.5,1999.5833,1999.6667,1999.75,1999.8333,1999.9167,2000,2000.0833,2000.1667,2000.25,2000.3333,2000.4167,2000.5,2000.5833,2000.6667,2000.75,2000.8333,2000.9167,2001],
            "domain": false,
            "grid": false,
            "offset": 1,
            "tickColor": "black",
            "tickWidth": 1,
            "tickSize": {"condition": {"test": "abs(datum.value - round(datum.value)) < 0.01", "value": 6}, "value": 3},
            "labelExpr": "abs(datum.value - floor(datum.value) - 0.4167) < 0.01 ? '' + floor(datum.value) : ''",
            "labelOverlap": false,
            "labelBound": false,
            "labelFlush": false,
            "labelFont": "Liberation Sans",
            "labelFontSize": 15,
            "labelColor": "black",
            "labelPadding": 1,
            "labelDx": -4,
            "title": "Quelle: IGC. - Toepfer International.",
            "titleFont": "Liberation Sans",
            "titleFontSize": 11,
            "titleFontWeight": "normal",
            "titleColor": "black",
            "titleAnchor": "start",
            "titleAlign": "left",
            "titleBaseline": "alphabetic",
            "titleX": -69,
            "titleY": 32
          }
        },
        "y": {
          "field": "v", "type": "quantitative",
          "scale": {"domain": [0, 350], "nice": false},
          "axis": {
            "orient": "left",
            "values": [0,25,50,75,100,125,150,175,200,225,250,275,300,325,350],
            "labelExpr": "datum.value % 50 === 0 ? datum.label : ''",
            "domain": false,
            "grid": false,
            "tickSize": 5,
            "tickColor": "black",
            "labelFont": "Liberation Sans",
            "labelFontSize": 15,
            "labelColor": "black",
            "labelPadding": 10,
            "labelOverlap": false,
            "labelBound": false,
            "labelFlush": false,
            "title": null
          }
        },
        "detail": {"field": "s", "type": "nominal"},
        "strokeDash": {
          "field": "s", "type": "nominal",
          "scale": {"domain": ["IGC-Preisindikator","CWRS No.1","Hard red winter No.2","Can.Amb.Durum No.1","Mais US-yellow corn","EU-Gerste","Frachtrate US-Golf - Rotterdam, fio"],
                    "range": [[1,0],[4,3],[10,5],[7,3,1.5,3],[1.5,2.5],[1,0],[1,0]]},
          "legend": null
        },
        "strokeWidth": {
          "field": "s", "type": "nominal",
          "scale": {"type": "ordinal", "domain": ["IGC-Preisindikator","CWRS No.1","Hard red winter No.2","Can.Amb.Durum No.1","Mais US-yellow corn","EU-Gerste","Frachtrate US-Golf - Rotterdam, fio"],
                    "range": [2.6,1,1,1,1.6,1,1]},
          "legend": null
        }
      }
    },
    {
      "data": {"name": "labels"},
      "transform": [{"filter": "datum.s !== 'Frachtrate US-Golf - Rotterdam, fio'"}],
      "mark": {"type": "text", "font": "Liberation Sans", "fontSize": 14, "align": "center", "baseline": "alphabetic", "color": "black"},
      "encoding": {
        "x": {
          "field": "t", "type": "quantitative",
          "scale": {"domain": [1991.79, 2001.21], "nice": false, "zero": false},
          "axis": {
            "orient": "top",
            "domain": false,
            "ticks": false,
            "labels": false,
            "grid": false,
            "title": "(US-Dollar je t)",
            "titleFont": "Liberation Sans",
            "titleFontSize": 21,
            "titleFontWeight": "normal",
            "titleColor": "black",
            "titleAnchor": "start",
            "titleAlign": "left",
            "titleBaseline": "alphabetic",
            "titleX": 327,
            "titleY": -15
          }
        },
        "y": {"field": "v", "type": "quantitative", "scale": {"domain": [0, 350], "nice": false}, "axis": null},
        "text": {"field": "s"}
      }
    },
    {
      "data": {"name": "labels"},
      "transform": [{"filter": "datum.s === 'Frachtrate US-Golf - Rotterdam, fio'"}],
      "mark": {"type": "text", "font": "Liberation Sans", "fontSize": 16, "align": "center", "baseline": "alphabetic", "color": "black"},
      "encoding": {
        "x": {"field": "t", "type": "quantitative", "scale": {"domain": [1991.79, 2001.21], "nice": false, "zero": false}, "axis": null},
        "y": {"field": "v", "type": "quantitative", "scale": {"domain": [0, 350], "nice": false}, "axis": null},
        "text": {"field": "s"}
      }
    },
    {
      "data": {"name": "keys"},
      "mark": {"type": "rule", "color": "black", "strokeCap": "butt"},
      "encoding": {
        "x": {"field": "t", "type": "quantitative", "scale": {"domain": [1991.79, 2001.21], "nice": false, "zero": false}, "axis": null},
        "x2": {"field": "t2"},
        "y": {
          "field": "v", "type": "quantitative",
          "scale": {"domain": [0, 350], "nice": false},
          "axis": {
            "orient": "right",
            "values": [0,25,50,75,100,125,150,175,200,225,250,275,300,325,350],
            "labelExpr": "datum.value % 50 === 0 ? datum.label : ''",
            "domain": false,
            "grid": false,
            "tickSize": 5,
            "tickColor": "black",
            "labelFont": "Liberation Sans",
            "labelFontSize": 15,
            "labelColor": "black",
            "labelPadding": 8,
            "labelOverlap": false,
            "labelBound": false,
            "labelFlush": false,
            "title": "Um00195",
            "titleFont": "Liberation Sans",
            "titleFontSize": 11,
            "titleFontWeight": "normal",
            "titleColor": "black",
            "titleAngle": 0,
            "titleAlign": "right",
            "titleBaseline": "alphabetic",
            "titleX": 57,
            "titleY": 377
          }
        },
        "strokeDash": {
          "field": "s", "type": "nominal",
          "scale": {"domain": ["IGC-Preisindikator","CWRS No.1","Hard red winter No.2","Can.Amb.Durum No.1","Mais US-yellow corn","EU-Gerste","Frachtrate US-Golf - Rotterdam, fio"],
                    "range": [[1,0],[4,3],[10,5],[7,3,1.5,3],[1.5,2.5],[1,0],[1,0]]},
          "legend": null
        },
        "strokeWidth": {
          "field": "s", "type": "nominal",
          "scale": {"type": "ordinal", "domain": ["IGC-Preisindikator","CWRS No.1","Hard red winter No.2","Can.Amb.Durum No.1","Mais US-yellow corn","EU-Gerste","Frachtrate US-Golf - Rotterdam, fio"],
                    "range": [2.6,1,1,1,1.6,1,1]},
          "legend": null
        }
      }
    }
  ],
  "resolve": {"axis": {"x": "independent", "y": "independent"}},
  "config": {
    "view": {"stroke": "black", "strokeWidth": 1},
    "font": "Liberation Sans"
  }
}
